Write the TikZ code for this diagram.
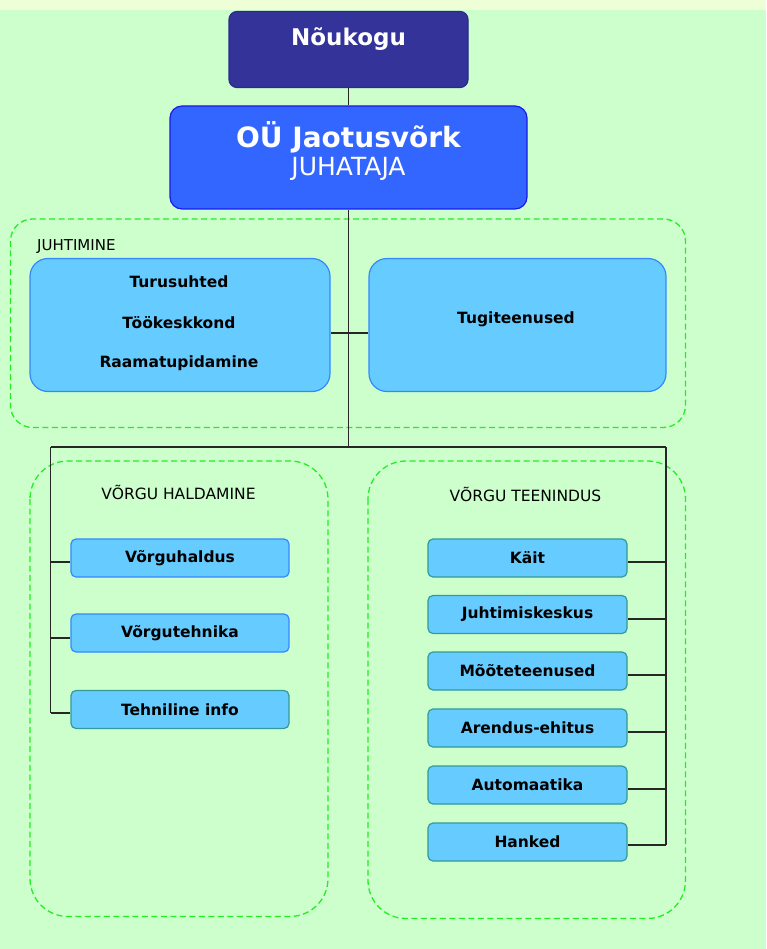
\documentclass[tikz,border=0pt]{standalone}
\usepackage{fontspec}
\setmainfont{DejaVu Sans}
\definecolor{bg}{HTML}{CCFFCC}
\definecolor{topstrip}{HTML}{EEFFD8}
\definecolor{navy}{HTML}{333399}
\definecolor{navyb}{HTML}{2A2A88}
\definecolor{blu}{HTML}{3366FF}
\definecolor{blub}{HTML}{1A1AEE}
\definecolor{lblue}{HTML}{66CCFF}
\definecolor{lbb}{HTML}{3388FF}
\definecolor{teal}{HTML}{339999}
\definecolor{dgreen}{HTML}{22EE22}
\tikzset{
  boxbase/.style={draw, rectangle, inner sep=0pt, line width=1.2pt},
  topbox/.style={boxbase, fill=navy, draw=navyb, rounded corners=8pt},
  headbox/.style={boxbase, fill=blu, draw=blub, rounded corners=12pt},
  bigbox/.style={boxbase, fill=lblue, draw=lbb, rounded corners=18pt, minimum width=300pt, minimum height=133pt},
  unitbox/.style={boxbase, fill=lblue, draw=#1, rounded corners=5pt, minimum width=218pt, minimum height=38pt,
     font=\fontsize{15.5}{18}\selectfont\bfseries},
  rbox/.style={boxbase, fill=lblue, draw=teal, rounded corners=5pt, minimum width=199pt, minimum height=38pt,
     font=\fontsize{15.5}{18}\selectfont\bfseries},
  grp/.style={draw=dgreen, line width=1.3pt, dash pattern=on 6pt off 3.5pt},
  conn/.style={draw=black!85, line width=1.2pt},
  txt/.style={inner sep=0pt, align=center},
}
\begin{document}
\begin{tikzpicture}[x=1pt,y=-1pt]
\useasboundingbox (0,0) rectangle (766,949);
\fill[bg] (0,0) rectangle (766,949);
\fill[topstrip] (0,0) rectangle (766,10);

% groups
\draw[grp, rounded corners=22pt] (10.5,219) rectangle (685.5,427.5);
\draw[grp, rounded corners=38pt] (30,461) rectangle (328,916.5);
\draw[grp, rounded corners=38pt] (368,461) rectangle (685.5,918.5);
\node[txt, anchor=west, font=\fontsize{15}{17}\selectfont] (lblj) at (37,247) {JUHTIMINE};
\node[txt, font=\fontsize{15.5}{18}\selectfont] (lblh) at (178.5,492) {VÕRGU HALDAMINE};
\node[txt, font=\fontsize{15.5}{18}\selectfont] (lblt) at (525.5,494) {VÕRGU TEENINDUS};

% top boxes
\node[topbox, minimum width=239pt, minimum height=76pt] (nou) at (348.5,49.5) {};
\node[txt, text=white, font=\fontsize{23}{26}\selectfont\bfseries] (noutxt) at (348.5,39.5) {Nõukogu};
\node[headbox, minimum width=357pt, minimum height=103pt] (oue) at (348.5,157.5) {};
\node[txt, text=white, font=\fontsize{28}{30}\selectfont\bfseries] (ouetxt) at (348.5,137.5) {OÜ Jaotusvõrk};
\node[txt, text=white, font=\fontsize{25}{28}\selectfont] (juhtxt) at (348.5,168.5) {JUHATAJA};

% management boxes
\node[bigbox] (turu) at (180,325) {};
\node[txt, font=\fontsize{15.5}{18}\selectfont\bfseries] (t1) at (179,282) {Turusuhted};
\node[txt, font=\fontsize{15.5}{18}\selectfont\bfseries] (t2) at (179,322.5) {Töökeskkond};
\node[txt, font=\fontsize{15.5}{18}\selectfont\bfseries] (t3) at (179,363) {Raamatupidamine};
\node[bigbox, minimum width=297pt] (tugi) at (517.5,325) {};
\node[txt, font=\fontsize{15.5}{18}\selectfont\bfseries] (tugitxt) at (516,319.5) {Tugiteenused};

% left units
\node[unitbox=lbb] (vh) at (180,558) {Võrguhaldus};
\node[unitbox=lbb] (vt) at (180,633) {Võrgutehnika};
\node[unitbox=teal] (ti) at (180,709.5) {Tehniline info};

% right units
\node[rbox] (kait) at (527.5,558) {Käit};
\node[rbox] (juht) at (527.5,614.5) {Juhtimiskeskus};
\node[rbox] (moot) at (527.5,671) {Mõõteteenused};
\node[rbox] (aren) at (527.5,728) {Arendus-ehitus};
\node[rbox] (auto) at (527.5,785) {Automaatika};
\node[rbox] (hank) at (527.5,842) {Hanked};

% coordinates
\coordinate (hub) at (348.5,447);
\coordinate (hL) at (50.5,447);
\coordinate (hR) at (666,447);
\coordinate (mid) at (348.5,333);

% connectors
\draw[conn] (nou.south) -- (oue.north);
\draw[conn] (oue.south) -- (hub);
\draw[conn] (turu.east |- mid) -- (tugi.west |- mid);
\draw[conn] (hL) -- (hR);
\draw[conn] (hL) -- (hL |- 0,713);
\draw[conn] (hL |- 0,562) -- (vh.west |- 0,562);
\draw[conn] (hL |- 0,638) -- (vt.west |- 0,638);
\draw[conn] (hL |- 0,713) -- (ti.west |- 0,713);
\draw[conn] (hR) -- (hR |- 0,845);
\draw[conn] (hR |- 0,562) -- (kait.east |- 0,562);
\draw[conn] (hR |- 0,619) -- (juht.east |- 0,619);
\draw[conn] (hR |- 0,675) -- (moot.east |- 0,675);
\draw[conn] (hR |- 0,732) -- (aren.east |- 0,732);
\draw[conn] (hR |- 0,789) -- (auto.east |- 0,789);
\draw[conn] (hR |- 0,845) -- (hank.east |- 0,845);
\end{tikzpicture}
\end{document}
